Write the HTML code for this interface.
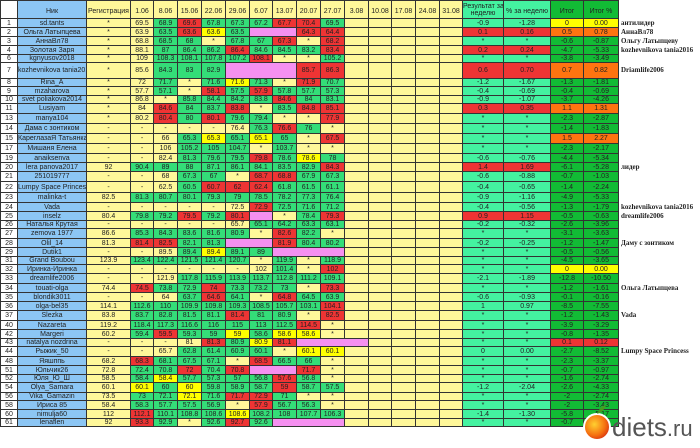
<!DOCTYPE html>
<html><head><meta charset="utf-8"><style>
body{margin:0;background:#fff;width:700px;height:448px;overflow:hidden;position:relative}
table{border-collapse:collapse;table-layout:fixed;width:700px;font-family:"Liberation Sans",Arial,sans-serif;font-size:7px;color:#222}
td{border:1px solid #333;padding:0;text-align:center;line-height:7px;overflow:hidden;white-space:nowrap;background:#fff89a}
.n{background:#fff}.b{background:#8cc6f4}.y{background:#fff89a}.g{background:#34dd78}.r{background:#ee3434}
.Y{background:#ffff00}.p{background:#f590f0}.m{background:#44f2a0}.G{background:#12bb35}.o{background:#ff7410}
td.l{border:none;background:#fff;text-align:left;font-family:"Liberation Serif",serif;font-weight:bold;font-size:7px;padding-left:2px}
.h td{vertical-align:bottom;padding-bottom:3px}
.wm{position:absolute;left:582px;top:400px;width:120px;height:44px}
</style></head><body>
<table>
<colgroup><col style="width:17px"><col style="width:69px"><col style="width:44px"><col style="width:23px"><col style="width:24px"><col style="width:24px"><col style="width:24px"><col style="width:24px"><col style="width:23px"><col style="width:24px"><col style="width:24px"><col style="width:24px"><col style="width:24px"><col style="width:23px"><col style="width:24px"><col style="width:24px"><col style="width:23px"><col style="width:41px"><col style="width:47px"><col style="width:33px"><col style="width:35px"><col style="width:82px"></colgroup>
<tr class=h style="height:18px"><td class=n></td><td class=b>Ник</td><td>Регистрация</td><td>1.06</td><td>8.06</td><td>15.06</td><td>22.06</td><td>29.06</td><td>6.07</td><td>13.07</td><td>20.07</td><td>27.07</td><td>3.08</td><td>10.08</td><td>17.08</td><td>24.08</td><td>31.08</td><td class=m style="line-height:7px;padding-bottom:1px">Результат за<br>неделю</td><td class=m>% за неделю</td><td class=G>Итог</td><td class=G>Итог %</td><td class=l></td></tr>
<tr style="height:9px"><td class=n>1</td><td class=b>sd.tants</td><td>*</td><td>69.5</td><td class=g>68.9</td><td class=r>69.6</td><td class=g>67.8</td><td class=g>67.3</td><td class=g>67.2</td><td class=r>67.7</td><td class=r>70.4</td><td class=g>69.5</td><td></td><td></td><td></td><td></td><td></td><td class=m>-0.9</td><td class=m>-1.28</td><td class=Y>0</td><td class=Y>0.00</td><td class=l>антилидер</td></tr>
<tr style="height:9px"><td class=n>2</td><td class=b>Ольга Латыпцева</td><td>*</td><td>63.9</td><td class=g>63.5</td><td class=r>63.6</td><td class=Y>63.6</td><td class=g>63.5</td><td class=p colspan=2></td><td class=r>64.3</td><td class=r>64.4</td><td></td><td></td><td></td><td></td><td></td><td class=r>0.1</td><td class=r>0.16</td><td class=o>0.5</td><td class=o>0.78</td><td class=l>АннаВл78</td></tr>
<tr style="height:9px"><td class=n>3</td><td class=b>АннаВл78</td><td>*</td><td>68.8</td><td class=g>68.5</td><td class=g>68</td><td>*</td><td class=g>67.8</td><td class=g>67</td><td class=r>67.3</td><td>*</td><td class=r>68.2</td><td></td><td></td><td></td><td></td><td></td><td class=m>*</td><td class=m>*</td><td class=G>-0.6</td><td class=G>-0.87</td><td class=l>Ольгу Латыпцеву</td></tr>
<tr style="height:9px"><td class=n>4</td><td class=b>Золотая Заря</td><td>*</td><td>88.1</td><td class=g>87</td><td class=g>86.4</td><td class=g>86.2</td><td class=r>86.4</td><td class=g>84.6</td><td class=g>84.5</td><td class=g>83.2</td><td class=r>83.4</td><td></td><td></td><td></td><td></td><td></td><td class=r>0.2</td><td class=r>0.24</td><td class=G>-4.7</td><td class=G>-5.33</td><td class=l>kozhevnikova tania2016</td></tr>
<tr style="height:8px"><td class=n>6</td><td class=b>kgnyusov2018</td><td>*</td><td>109</td><td class=g>108.3</td><td class=g>108.1</td><td class=g>107.8</td><td class=g>107.2</td><td class=r>108.1</td><td>*</td><td>*</td><td class=g>105.2</td><td></td><td></td><td></td><td></td><td></td><td class=m>*</td><td class=m>*</td><td class=G>-3.8</td><td class=G>-3.49</td><td class=l></td></tr>
<tr style="height:16px"><td class=n>7</td><td class=b>kozhevnikova tania2016</td><td>*</td><td>85.6</td><td class=g>84.3</td><td class=g>83</td><td class=g>82.9</td><td class=p colspan=3></td><td class=r>85.7</td><td class=r>86.3</td><td></td><td></td><td></td><td></td><td></td><td class=r>0.6</td><td class=r>0.70</td><td class=o>0.7</td><td class=o>0.82</td><td class=l>Driamlife2006</td></tr>
<tr style="height:8px"><td class=n>8</td><td class=b>Rina_A</td><td>*</td><td>72</td><td class=g>71.7</td><td>*</td><td class=g>71.6</td><td class=Y>71.6</td><td class=g>71.3</td><td>*</td><td class=r>71.9</td><td class=g>70.7</td><td></td><td></td><td></td><td></td><td></td><td class=m>-1.2</td><td class=m>-1.67</td><td class=G>-1.3</td><td class=G>-1.81</td><td class=l></td></tr>
<tr style="height:9px"><td class=n>9</td><td class=b>mzaharova</td><td>*</td><td>57.7</td><td class=g>57.1</td><td>*</td><td class=r>58.1</td><td class=g>57.5</td><td class=r>57.9</td><td class=g>57.8</td><td class=g>57.7</td><td class=g>57.3</td><td></td><td></td><td></td><td></td><td></td><td class=m>-0.4</td><td class=m>-0.69</td><td class=G>-0.4</td><td class=G>-0.69</td><td class=l></td></tr>
<tr style="height:8px"><td class=n>10</td><td class=b>svet poliakova2014</td><td>*</td><td>86.8</td><td>*</td><td class=g>85.8</td><td class=g>84.4</td><td class=g>84.2</td><td class=g>83.8</td><td class=r>84.6</td><td class=g>84</td><td class=g>83.1</td><td></td><td></td><td></td><td></td><td></td><td class=m>-0.9</td><td class=m>-1.07</td><td class=G>-3.7</td><td class=G>-4.26</td><td class=l></td></tr>
<tr style="height:10px"><td class=n>11</td><td class=b>Lusiyam</td><td>*</td><td>84</td><td class=r>84.6</td><td class=g>84</td><td class=g>83.7</td><td class=r>83.8</td><td>*</td><td class=g>83.5</td><td class=r>84.8</td><td class=r>85.1</td><td></td><td></td><td></td><td></td><td></td><td class=r>0.3</td><td class=r>0.35</td><td class=o>1.1</td><td class=o>1.31</td><td class=l></td></tr>
<tr style="height:10px"><td class=n>13</td><td class=b>manya104</td><td>*</td><td>80.2</td><td class=r>80.4</td><td class=g>80</td><td class=r>80.1</td><td class=g>79.6</td><td class=g>79.4</td><td>*</td><td>*</td><td class=r>77.9</td><td></td><td></td><td></td><td></td><td></td><td class=m>*</td><td class=m>*</td><td class=G>-2.3</td><td class=G>-2.87</td><td class=l></td></tr>
<tr style="height:10px"><td class=n>14</td><td class=b>Дама с зонтиком</td><td>-</td><td>-</td><td>-</td><td>-</td><td>-</td><td>76.4</td><td class=g>76.3</td><td class=r>76.6</td><td class=g>76</td><td>*</td><td></td><td></td><td></td><td></td><td></td><td class=m>*</td><td class=m>*</td><td class=G>-1.4</td><td class=G>-1.83</td><td class=l></td></tr>
<tr style="height:10px"><td class=n>15</td><td class=b>КареглазаЯ Татьянка</td><td>-</td><td>-</td><td>66</td><td class=g>65.3</td><td class=Y>65.3</td><td class=g>65.1</td><td class=Y>65.1</td><td class=g>65</td><td>*</td><td class=r>67.5</td><td></td><td></td><td></td><td></td><td></td><td class=m>*</td><td class=m>*</td><td class=o>1.5</td><td class=o>2.27</td><td class=l></td></tr>
<tr style="height:10px"><td class=n>17</td><td class=b>Мишаня Елена</td><td>-</td><td>-</td><td>106</td><td class=g>105.2</td><td class=g>105</td><td class=g>104.7</td><td>*</td><td class=g>103.7</td><td>*</td><td>*</td><td></td><td></td><td></td><td></td><td></td><td class=m>*</td><td class=m>*</td><td class=G>-2.3</td><td class=G>-2.17</td><td class=l></td></tr>
<tr style="height:9px"><td class=n>19</td><td class=b>anaiksenva</td><td>-</td><td>-</td><td>82.4</td><td class=g>81.3</td><td class=g>79.6</td><td class=g>79.5</td><td class=r>79.8</td><td class=g>78.6</td><td class=Y>78.6</td><td class=g>78</td><td></td><td></td><td></td><td></td><td></td><td class=m>-0.6</td><td class=m>-0.76</td><td class=G>-4.4</td><td class=G>-5.34</td><td class=l></td></tr>
<tr style="height:9px"><td class=n>20</td><td class=b>lera panova2017</td><td>92</td><td class=g>90.4</td><td class=g>89</td><td class=g>88</td><td class=g>87.1</td><td class=g>86.1</td><td class=g>84.1</td><td class=g>83.5</td><td class=g>82.9</td><td class=r>84.3</td><td></td><td></td><td></td><td></td><td></td><td class=r>1.4</td><td class=r>1.69</td><td class=G>-6.1</td><td class=G>-5.28</td><td class=l>лидер</td></tr>
<tr style="height:10px"><td class=n>21</td><td class=b>251019777</td><td>-</td><td>-</td><td>68</td><td class=g>67.3</td><td class=g>67</td><td>*</td><td class=r>68.7</td><td class=r>68.8</td><td class=g>67.9</td><td class=g>67.3</td><td></td><td></td><td></td><td></td><td></td><td class=m>-0.6</td><td class=m>-0.88</td><td class=G>-0.7</td><td class=G>-1.03</td><td class=l></td></tr>
<tr style="height:11px"><td class=n>22</td><td class=b>Lumpy Space Princess</td><td>-</td><td>-</td><td>62.5</td><td class=g>60.5</td><td class=r>60.7</td><td class=r>62</td><td class=r>62.4</td><td class=g>61.8</td><td class=g>61.5</td><td class=g>61.1</td><td></td><td></td><td></td><td></td><td></td><td class=m>-0.4</td><td class=m>-0.65</td><td class=G>-1.4</td><td class=G>-2.24</td><td class=l></td></tr>
<tr style="height:10px"><td class=n>23</td><td class=b>malinka-t</td><td>82.5</td><td class=g>81.3</td><td class=g>80.7</td><td class=g>80.1</td><td class=g>79.3</td><td class=g>79</td><td class=g>78.5</td><td class=g>78.2</td><td class=g>77.3</td><td class=g>76.4</td><td></td><td></td><td></td><td></td><td></td><td class=m>-0.9</td><td class=m>-1.16</td><td class=G>-4.9</td><td class=G>-5.33</td><td class=l></td></tr>
<tr style="height:9px"><td class=n>24</td><td class=b>Vada</td><td>-</td><td>-</td><td>-</td><td>-</td><td>-</td><td>72.5</td><td class=r>72.9</td><td class=g>72.5</td><td class=g>71.6</td><td class=g>71.2</td><td></td><td></td><td></td><td></td><td></td><td class=m>-0.4</td><td class=m>-0.56</td><td class=G>-1.3</td><td class=G>-1.79</td><td class=l>kozhevnikova tania2016</td></tr>
<tr style="height:9px"><td class=n>25</td><td class=b>inselz</td><td>80.4</td><td class=g>79.8</td><td class=g>79.2</td><td class=r>79.5</td><td class=g>79.2</td><td class=r>80.1</td><td class=p></td><td>*</td><td class=g>78.4</td><td class=r>79.3</td><td></td><td></td><td></td><td></td><td></td><td class=r>0.9</td><td class=r>1.15</td><td class=G>-0.5</td><td class=G>-0.63</td><td class=l>dreamlife2006</td></tr>
<tr style="height:8px"><td class=n>26</td><td class=b>Наталья Крутая</td><td>-</td><td>-</td><td>-</td><td>-</td><td>-</td><td>65.7</td><td class=g>65.1</td><td class=g>64.2</td><td class=g>63.3</td><td class=g>63.1</td><td></td><td></td><td></td><td></td><td></td><td class=m>-0.2</td><td class=m>-0.32</td><td class=G>-2.6</td><td class=G>-3.96</td><td class=l></td></tr>
<tr style="height:10px"><td class=n>27</td><td class=b>zemova 1977</td><td>86.6</td><td class=g>85.3</td><td class=g>84.3</td><td class=g>83.6</td><td class=g>81.6</td><td class=g>80.9</td><td>*</td><td class=r>82.6</td><td class=g>82.2</td><td>*</td><td></td><td></td><td></td><td></td><td></td><td class=m>*</td><td class=m>*</td><td class=G>-3.1</td><td class=G>-3.63</td><td class=l></td></tr>
<tr style="height:9px"><td class=n>28</td><td class=b>Olil_14</td><td>81.3</td><td class=r>81.4</td><td class=r>82.5</td><td class=g>82.1</td><td class=g>81.3</td><td class=p colspan=2></td><td class=r>81.9</td><td class=g>80.4</td><td class=g>80.2</td><td></td><td></td><td></td><td></td><td></td><td class=m>-0.2</td><td class=m>-0.25</td><td class=G>-1.2</td><td class=G>-1.47</td><td class=l>Даму с зонтиком</td></tr>
<tr style="height:9px"><td class=n>29</td><td class=b>Dutik1</td><td>-</td><td>-</td><td>89.5</td><td class=g>89.4</td><td class=Y>89.4</td><td class=g>89.1</td><td class=g>89</td><td class=p colspan=3></td><td></td><td></td><td></td><td></td><td></td><td class=m>*</td><td class=m>*</td><td class=G>-0.5</td><td class=G>-0.56</td><td class=l></td></tr>
<tr style="height:8px"><td class=n>31</td><td class=b>Grand Boubou</td><td>123.9</td><td class=g>123.4</td><td class=g>122.4</td><td class=g>121.5</td><td class=g>121.4</td><td class=g>120.7</td><td>*</td><td class=g>119.9</td><td>*</td><td class=g>118.9</td><td></td><td></td><td></td><td></td><td></td><td class=m>*</td><td class=m>*</td><td class=G>-4.5</td><td class=G>-3.65</td><td class=l></td></tr>
<tr style="height:9px"><td class=n>32</td><td class=b>Иринка-Иринка</td><td>-</td><td>-</td><td>-</td><td>-</td><td>-</td><td>-</td><td>102</td><td class=g>101.4</td><td>*</td><td class=r>102</td><td></td><td></td><td></td><td></td><td></td><td class=m>*</td><td class=m>*</td><td class=Y>0</td><td class=Y>0.00</td><td class=l></td></tr>
<tr style="height:10px"><td class=n>33</td><td class=b>dreamlife2006</td><td>-</td><td>-</td><td>121.9</td><td class=g>117.8</td><td class=g>115.9</td><td class=g>113.9</td><td class=g>113.7</td><td class=g>112.8</td><td class=g>111.2</td><td class=g>109.1</td><td></td><td></td><td></td><td></td><td></td><td class=m>-2.1</td><td class=m>-1.89</td><td class=G>-12.8</td><td class=G>-10.50</td><td class=l></td></tr>
<tr style="height:9px"><td class=n>34</td><td class=b>touati-olga</td><td>74.4</td><td class=r>74.5</td><td class=g>73.8</td><td class=g>72.9</td><td class=r>74</td><td class=g>73.3</td><td class=g>73.2</td><td class=g>73</td><td>*</td><td class=r>73.3</td><td></td><td></td><td></td><td></td><td></td><td class=m>*</td><td class=m>*</td><td class=G>-1.2</td><td class=G>-1.61</td><td class=l>Ольга Латыпцева</td></tr>
<tr style="height:9px"><td class=n>35</td><td class=b>blondik3011</td><td>-</td><td>-</td><td>64</td><td class=g>63.7</td><td class=r>64.6</td><td class=g>64.1</td><td>*</td><td class=r>64.8</td><td class=g>64.5</td><td class=g>63.9</td><td></td><td></td><td></td><td></td><td></td><td class=m>-0.6</td><td class=m>-0.93</td><td class=G>-0.1</td><td class=G>-0.16</td><td class=l></td></tr>
<tr style="height:9px"><td class=n>36</td><td class=b>olga-bel35</td><td>114.1</td><td class=g>112.6</td><td class=g>110</td><td class=g>109.9</td><td class=g>109.8</td><td class=g>109.3</td><td class=g>108.5</td><td class=g>105.7</td><td class=g>103.1</td><td class=r>104.1</td><td></td><td></td><td></td><td></td><td></td><td class=m>1</td><td class=m>0.97</td><td class=G>-8.5</td><td class=G>-7.55</td><td class=l></td></tr>
<tr style="height:10px"><td class=n>37</td><td class=b>Slezka</td><td>83.8</td><td class=g>83.7</td><td class=g>82.8</td><td class=g>81.5</td><td class=g>81.1</td><td class=r>81.4</td><td class=g>81</td><td class=g>80.9</td><td>*</td><td class=r>82.5</td><td></td><td></td><td></td><td></td><td></td><td class=m>*</td><td class=m>*</td><td class=G>-1.2</td><td class=G>-1.43</td><td class=l>Vada</td></tr>
<tr style="height:9px"><td class=n>40</td><td class=b>Nazareta</td><td>119.2</td><td class=g>118.4</td><td class=g>117.3</td><td class=g>116.6</td><td class=g>116</td><td class=g>115</td><td class=g>113</td><td class=g>112.5</td><td class=r>114.5</td><td>*</td><td></td><td></td><td></td><td></td><td></td><td class=m>*</td><td class=m>*</td><td class=G>-3.9</td><td class=G>-3.29</td><td class=l></td></tr>
<tr style="height:9px"><td class=n>42</td><td class=b>Margeri</td><td>60.2</td><td class=g>59.4</td><td class=r>59.5</td><td class=g>59.3</td><td class=g>59</td><td class=Y>59</td><td class=g>58.6</td><td class=Y>58.6</td><td class=Y>58.6</td><td>*</td><td></td><td></td><td></td><td></td><td></td><td class=m>*</td><td class=m>*</td><td class=G>-0.8</td><td class=G>-1.35</td><td class=l></td></tr>
<tr style="height:8px"><td class=n>43</td><td class=b>natalya nozdrina</td><td>-</td><td>-</td><td>-</td><td>81</td><td class=r>81.3</td><td class=g>80.9</td><td class=Y>80.9</td><td class=r>81.1</td><td class=p colspan=3></td><td></td><td></td><td></td><td></td><td class=m>*</td><td class=m>*</td><td class=r>0.1</td><td class=r>0.12</td><td class=l></td></tr>
<tr style="height:10px"><td class=n>44</td><td class=b>Рыжик_50</td><td>-</td><td>-</td><td>65.7</td><td class=g>62.8</td><td class=g>61.4</td><td class=g>60.9</td><td class=g>60.1</td><td>*</td><td class=Y>60.1</td><td class=Y>60.1</td><td></td><td></td><td></td><td></td><td></td><td class=m>0</td><td class=m>0.00</td><td class=G>-2.7</td><td class=G>-8.52</td><td class=l>Lumpy Space Princess</td></tr>
<tr style="height:9px"><td class=n>48</td><td class=b>Яяшппь</td><td>68.2</td><td class=r>68.3</td><td class=g>68.1</td><td class=g>67.5</td><td class=g>67.1</td><td>*</td><td class=r>68.5</td><td class=g>66.5</td><td class=g>66</td><td>*</td><td></td><td></td><td></td><td></td><td></td><td class=m>*</td><td class=m>*</td><td class=G>-2.3</td><td class=G>-3.37</td><td class=l></td></tr>
<tr style="height:9px"><td class=n>51</td><td class=b>Юльчик26</td><td>72.8</td><td class=g>72.4</td><td class=g>70.8</td><td class=r>72</td><td class=g>70.4</td><td class=r>70.8</td><td class=p colspan=2></td><td class=r>71.7</td><td>*</td><td></td><td></td><td></td><td></td><td></td><td class=m>*</td><td class=m>*</td><td class=G>-0.7</td><td class=G>-0.97</td><td class=l></td></tr>
<tr style="height:8px"><td class=n>52</td><td class=b>Юля_Ю_Ш</td><td>58.5</td><td class=g>58.4</td><td class=Y>58.4</td><td class=g>57.7</td><td class=g>57.3</td><td class=g>57</td><td class=g>56.8</td><td class=r>57.6</td><td class=g>56.8</td><td>*</td><td></td><td></td><td></td><td></td><td></td><td class=m>*</td><td class=m>*</td><td class=G>-1.6</td><td class=G>-2.74</td><td class=l></td></tr>
<tr style="height:10px"><td class=n>54</td><td class=b>Olya_Samara</td><td>60.1</td><td class=Y>60.1</td><td class=g>60</td><td class=Y>60</td><td class=g>59.8</td><td class=g>58.9</td><td class=g>58.7</td><td class=r>59</td><td class=g>58.7</td><td class=g>57.5</td><td></td><td></td><td></td><td></td><td></td><td class=m>-1.2</td><td class=m>-2.04</td><td class=G>-2.6</td><td class=G>-4.33</td><td class=l></td></tr>
<tr style="height:8px"><td class=n>56</td><td class=b>Vika_Gamazin</td><td>73.5</td><td class=g>73</td><td class=g>72.1</td><td class=Y>72.1</td><td class=g>71.6</td><td class=r>71.7</td><td class=r>72.9</td><td class=g>71</td><td>*</td><td>*</td><td></td><td></td><td></td><td></td><td></td><td class=m>*</td><td class=m>*</td><td class=G>-2</td><td class=G>-2.74</td><td class=l></td></tr>
<tr style="height:9px"><td class=n>58</td><td class=b>Ириса 85</td><td>58.4</td><td class=g>58.3</td><td class=g>57.7</td><td class=g>57.5</td><td class=g>56.9</td><td>*</td><td class=r>57.9</td><td class=g>56.7</td><td class=g>56.3</td><td>*</td><td></td><td></td><td></td><td></td><td></td><td class=m>*</td><td class=m>*</td><td class=G>-2</td><td class=G>-3.43</td><td class=l></td></tr>
<tr style="height:9px"><td class=n>60</td><td class=b>nimulja60</td><td>112</td><td class=r>112.1</td><td class=g>110.1</td><td class=g>108.8</td><td class=g>108.6</td><td class=Y>108.6</td><td class=g>108.2</td><td class=g>108</td><td class=g>107.7</td><td class=g>106.3</td><td></td><td></td><td></td><td></td><td></td><td class=m>-1.4</td><td class=m>-1.30</td><td class=G>-5.8</td><td class=G>-5.17</td><td class=l></td></tr>
<tr style="height:8px"><td class=n>61</td><td class=b>lenaflen</td><td>92</td><td class=r>93.3</td><td class=g>92.9</td><td>*</td><td class=g>92.6</td><td class=r>92.7</td><td class=g>92.6</td><td class=p colspan=3></td><td></td><td></td><td></td><td></td><td></td><td class=m>*</td><td class=m>*</td><td class=G>-0.7</td><td class=G>-0.76</td><td class=l></td></tr>
</table>
<svg class="wm" viewBox="0 0 120 44" xmlns="http://www.w3.org/2000/svg">
<defs><radialGradient id="ap" cx="0.4" cy="0.4" r="0.7"><stop offset="0" stop-color="#ffd030"/><stop offset="0.6" stop-color="#f57010"/><stop offset="1" stop-color="#d02010"/></radialGradient></defs>
<ellipse cx="15" cy="27" rx="13" ry="13" fill="url(#ap)" stroke="#fff" stroke-width="2"/>
<path d="M15 14 Q18 6 24 5 Q22 12 15 14Z" fill="#4a9a20"/>
<text x="30" y="36" font-family="Liberation Sans, sans-serif" font-size="26" fill="#555">diets<tspan font-size="22">.ru</tspan></text>
</svg>
</body></html>
